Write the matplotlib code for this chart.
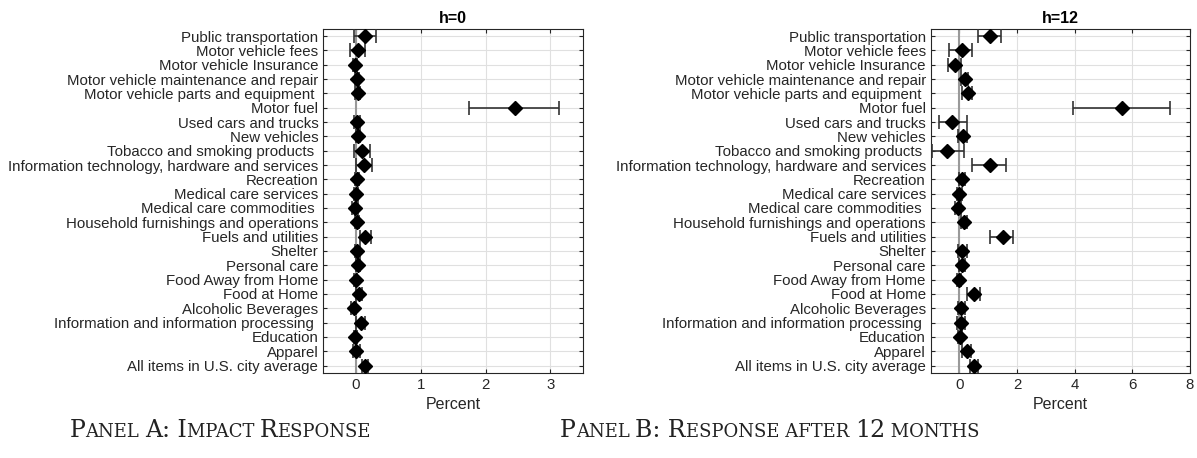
import matplotlib
matplotlib.use("Agg")
import matplotlib.pyplot as plt
from matplotlib.offsetbox import TextArea, HPacker, AnchoredOffsetbox
import numpy as np

categories = ["Public transportation","Motor vehicle fees","Motor vehicle Insurance",
"Motor vehicle maintenance and repair","Motor vehicle parts and equipment ","Motor fuel",
"Used cars and trucks","New vehicles","Tobacco and smoking products ",
"Information technology, hardware and services","Recreation","Medical care services",
"Medical care commodities ","Household furnishings and operations","Fuels and utilities",
"Shelter","Personal care","Food Away from Home","Food at Home","Alcoholic Beverages",
"Information and information processing ","Education","Apparel","All items in U.S. city average"]

a_mid = [0.15,0.04,-0.01,0.02,0.03,2.45,0.02,0.04,0.10,0.13,0.02,0.0,-0.01,0.02,0.15,0.02,0.03,0.0,0.05,-0.03,0.08,-0.01,0.01,0.15]
a_lo  = [-0.02,-0.09,-0.04,-0.01,-0.01,1.75,-0.03,0.01,-0.03,0.0,-0.01,-0.03,-0.05,-0.01,0.06,-0.01,0.0,-0.02,0.0,-0.07,0.0,-0.03,-0.04,0.10]
a_hi  = [0.31,0.15,0.02,0.05,0.07,3.13,0.07,0.07,0.22,0.25,0.05,0.03,0.03,0.05,0.23,0.06,0.07,0.02,0.10,0.01,0.15,0.02,0.07,0.19]

b_mid = [1.05,0.1,-0.15,0.2,0.3,5.65,-0.25,0.12,-0.42,1.05,0.1,0.0,-0.05,0.15,1.5,0.1,0.1,0.0,0.5,0.07,0.05,0.02,0.25,0.5]
b_lo  = [0.65,-0.35,-0.4,0.05,0.1,3.95,-0.7,-0.05,-0.95,0.45,0.0,-0.1,-0.15,0.05,1.05,-0.05,0.0,-0.07,0.25,-0.05,-0.1,-0.05,0.1,0.35]
b_hi  = [1.45,0.45,0.05,0.3,0.45,7.3,0.25,0.25,0.15,1.6,0.2,0.1,0.05,0.25,1.85,0.25,0.2,0.07,0.7,0.2,0.2,0.1,0.4,0.65]

plt.rcParams['font.family'] = ['Liberation Sans', 'DejaVu Sans']

fig = plt.figure(figsize=(11.97,4.58), dpi=100)
axA = fig.add_axes([0.27,0.186,0.217,0.751])
axB = fig.add_axes([0.7775,0.186,0.2165,0.751])

def panel(ax, mid, lo, hi, title, xlim, xticks):
    y = np.arange(len(categories))
    mid = np.array(mid); lo = np.array(lo); hi = np.array(hi)
    ax.axvline(0, color="#999999", lw=1.5, zorder=1)
    ax.errorbar(mid, y, xerr=[mid-lo, hi-mid], fmt="D", color="black", ecolor="#333333",
                ms=7, capsize=5, elinewidth=1.2, capthick=1.2, zorder=3)
    ax.set_yticks(y)
    ax.set_yticklabels(categories, fontsize=10.8, color="#262626")
    ax.set_ylim(len(categories)-0.5, -0.5)
    ax.set_xlim(*xlim)
    ax.set_xticks(xticks)
    ax.tick_params(labelsize=10.8, direction="in", length=3, right=True, top=True, colors="#262626")
    ax.grid(True, color="#e0e0e0", lw=0.8)
    ax.set_axisbelow(True)
    ax.set_title(title, fontsize=11.5, fontweight="bold", pad=4)
    ax.set_xlabel("Percent", fontsize=11.5, color="#262626")
    for s in ax.spines.values():
        s.set_color("#262626"); s.set_linewidth(0.8)

panel(axA, a_mid, a_lo, a_hi, "h=0", (-0.5,3.5), [0,1,2,3])
panel(axB, b_mid, b_lo, b_hi, "h=12", (-1,8), [0,2,4,6,8])

def smallcaps(parts, xc):
    areas = []
    for txt, big in parts:
        areas.append(TextArea(txt, textprops=dict(fontsize=17 if big else 13,
                                                  family="DejaVu Serif", color="#222222")))
    box = HPacker(children=areas, align="baseline", pad=0, sep=0)
    ab = AnchoredOffsetbox(loc="center", child=box, frameon=False,
                           bbox_to_anchor=(xc, 0.06), bbox_transform=fig.transFigure, pad=0, borderpad=0)
    fig.add_artist(ab)

smallcaps([("P",1),("ANEL ",0),("A: I",1),("MPACT ",0),("R",1),("ESPONSE",0)], 0.184)
smallcaps([("P",1),("ANEL ",0),("B: R",1),("ESPONSE AFTER ",0),("12",1),(" MONTHS",0)], 0.643)

fig.savefig("out.png", dpi=100)
